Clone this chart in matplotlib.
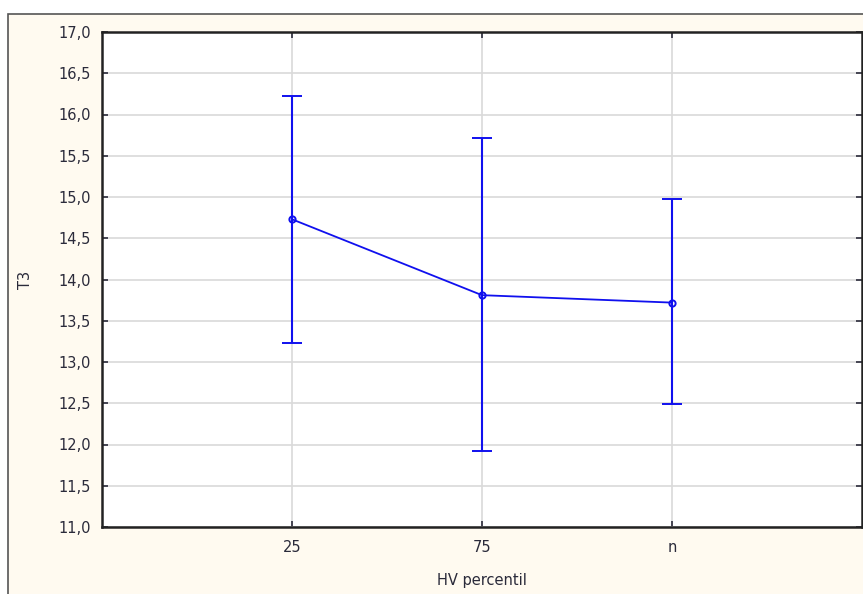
import matplotlib.pyplot as plt
from matplotlib.patches import Rectangle
from matplotlib.ticker import FuncFormatter

categories = ['25', '75', 'n']
means = [14.73, 13.81, 13.72]
upper = [16.22, 15.72, 14.98]
lower = [13.23, 11.92, 12.49]

plt.rcParams['font.family'] = ['DejaVu Sans']

fig = plt.figure(figsize=(8.63, 5.94), dpi=100)
fig.patch.set_facecolor('white')
# cream panel with a dark border, cut at the right and bottom edges
fig.patches.append(Rectangle((8 / 863, -0.01), 1.0, 1 - 14 / 594 + 0.01,
                             transform=fig.transFigure, facecolor='#fffaf0',
                             edgecolor='#555555', linewidth=1.2, zorder=0))

ax = fig.add_axes([102 / 863, 1 - 527 / 594, (862 - 102) / 863, (527 - 32) / 594])
ax.set_zorder(2)
ax.set_facecolor('white')

x = list(range(1, len(categories) + 1))
yerr = [[m - lo for m, lo in zip(means, lower)], [up - m for m, up in zip(means, upper)]]
ax.errorbar(x, means, yerr=yerr, color='#1010ee', linewidth=1.3, elinewidth=1.5,
            capsize=7, capthick=1.5, marker='o', markersize=4.5,
            markerfacecolor='none', markeredgewidth=1.4, zorder=3)

ax.set_xlim(0, 4)
ax.set_ylim(11, 17)
ax.set_xticks(x)
ax.set_xticklabels(categories)
ax.set_yticks([11 + 0.5 * i for i in range(13)])
ax.yaxis.set_major_formatter(FuncFormatter(lambda v, p: f'{v:.1f}'.replace('.', ',')))

ax.grid(True, color='#d9d9d9', linewidth=1.2)
ax.set_axisbelow(True)
ax.tick_params(direction='in', length=4, width=1.2, top=True, right=True,
               labelsize=10.5, colors='#2a2a3a')
ax.tick_params(axis='x', pad=9)
ax.tick_params(axis='y', pad=8)
for s in ax.spines.values():
    s.set_linewidth(1.8)
    s.set_color('#222222')

ax.set_xlabel('HV percentil', fontsize=10.5, labelpad=13, color='#2a2a3a')
ax.set_ylabel('T3', fontsize=10.5, labelpad=18, color='#2a2a3a')

fig.savefig('out.png', dpi=100, facecolor=fig.get_facecolor())
